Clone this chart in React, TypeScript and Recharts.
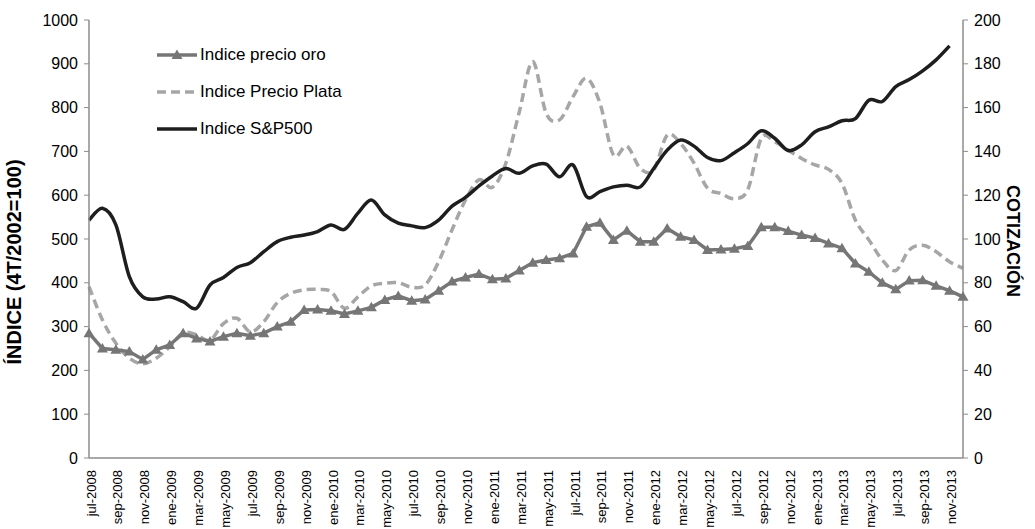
import { LineChart, Line, XAxis, YAxis } from 'recharts';

const MESES = ['ene', 'feb', 'mar', 'abr', 'may', 'jun', 'jul', 'ago', 'sep', 'oct', 'nov', 'dic'];

// jul-2008 .. dic-2013, mensual
const categorias: string[] = [];
for (let k = 0; k < 66; k++) {
  const m = (6 + k) % 12;
  const anio = 2008 + Math.floor((6 + k) / 12);
  categorias.push(`${MESES[m]}-${anio}`);
}

const oro = [
  285, 250, 247, 243, 225, 247, 258, 285, 273, 266, 277, 285,
  279, 285, 300, 311, 338, 339, 336, 329, 336, 344, 361, 370,
  359, 362, 382, 403, 412, 420, 408, 410, 428, 446, 452, 456,
  467, 528, 537, 498, 519, 494, 494, 524, 505, 498, 475, 476,
  478, 484, 527, 527, 518, 509, 502, 490, 479, 444, 425, 400,
  385, 405, 406, 393, 382, 368,
];

const plata = [
  391, 315, 262, 228, 215, 228, 254, 286, 281, 269, 307, 319,
  288, 311, 355, 376, 384, 385, 380, 342, 368, 393, 399, 400,
  390, 395, 448, 521, 589, 635, 618, 673, 790, 905, 787, 772,
  825, 867, 810, 692, 712, 661, 658, 737, 718, 673, 616, 604,
  592, 613, 730, 722, 703, 684, 669, 659, 627, 543, 498, 452,
  428, 475, 486, 471, 448, 433,
];

const sp500 = [
  543, 570, 532, 414, 368, 363, 368, 357, 342, 395, 412, 435,
  446, 471, 494, 504, 509, 517, 532, 522, 559, 589, 555, 536,
  530, 526, 543, 575, 595, 621, 644, 661, 650, 667, 671, 642,
  669, 597, 608, 619, 623, 619, 661, 703, 726, 712, 686, 679,
  697, 718, 747, 730, 702, 715, 745, 756, 770, 775, 817, 814,
  848, 864, 884, 909, 941, null,
];

const ticksIzq = [0, 100, 200, 300, 400, 500, 600, 700, 800, 900, 1000];
const ticksDer = [0, 20, 40, 60, 80, 100, 120, 140, 160, 180, 200];

const data = categorias.map((mes, i) => ({ mes, oro: oro[i], plata: plata[i], sp500: sp500[i] }));

const FONT = '"Liberation Sans", Arial, sans-serif';
const AXIS = '#8c8c8c';
const C_ORO = '#767676';
const C_PLATA = '#a6a6a6';
const C_SP = '#1e1e1e';

// suavizado tipo Excel (Catmull-Rom)
function curvaSuave(context: any) {
  let pts: number[][] = [];
  return {
    areaStart() {},
    areaEnd() {},
    lineStart() {
      pts = [];
    },
    point(x: number, y: number) {
      pts.push([+x, +y]);
    },
    lineEnd() {
      const n = pts.length;
      if (!n) return;
      context.moveTo(pts[0][0], pts[0][1]);
      for (let i = 0; i < n - 1; i++) {
        const p0 = pts[Math.max(i - 1, 0)];
        const p1 = pts[i];
        const p2 = pts[i + 1];
        const p3 = pts[Math.min(i + 2, n - 1)];
        context.bezierCurveTo(
          p1[0] + (p2[0] - p0[0]) / 6,
          p1[1] + (p2[1] - p0[1]) / 6,
          p2[0] - (p3[0] - p1[0]) / 6,
          p2[1] - (p3[1] - p1[1]) / 6,
          p2[0],
          p2[1],
        );
      }
    },
  };
}

function Triangulo(props: any) {
  const { cx, cy } = props;
  if (cx == null || cy == null) return null;
  return <polygon points={`${cx - 5.5},${cy + 4} ${cx + 5.5},${cy + 4} ${cx},${cy - 5.5}`} fill={C_ORO} />;
}

function TickMes({ x, y, payload }: any) {
  return (
    <g transform={`translate(${x},${y})`}>
      <text x={-4} y={6.5} textAnchor="end" transform="rotate(-90)" fontSize={13} fill="#000" fontFamily={FONT}>
        {payload.value}
      </text>
    </g>
  );
}

const leyenda = [
  { label: 'Indice precio oro', color: C_ORO, dash: undefined, tri: true },
  { label: 'Indice Precio Plata', color: C_PLATA, dash: '9 5', tri: false },
  { label: 'Indice S&P500', color: C_SP, dash: undefined, tri: false },
];

export default function App() {
  return (
    <div style={{ position: 'absolute', left: 0, top: 0, width: 1035, height: 529, background: '#fff', fontFamily: FONT }}>
      <LineChart width={1035} height={529} data={data} margin={{ top: 20, right: 0, left: 0, bottom: 0 }}>
        <XAxis
          dataKey="mes"
          interval={1}
          height={71}
          tickLine={false}
          axisLine={{ stroke: AXIS, strokeWidth: 1.5 }}
          tick={<TickMes />}
        />
        <YAxis
          yAxisId="izq"
          domain={[0, 1000]}
          ticks={ticksIzq}
          width={89}
          tickSize={5}
          tickMargin={6}
          axisLine={{ stroke: AXIS, strokeWidth: 1.5 }}
          tickLine={{ stroke: AXIS }}
          tick={{ fontSize: 16, fill: '#000', fontFamily: FONT }}
        />
        <YAxis
          yAxisId="der"
          orientation="right"
          domain={[0, 200]}
          ticks={ticksDer}
          allowDataOverflow
          width={72}
          tickSize={5}
          tickMargin={6}
          axisLine={{ stroke: AXIS, strokeWidth: 1.5 }}
          tickLine={{ stroke: AXIS }}
          tick={{ fontSize: 16, fill: '#000', fontFamily: FONT }}
        />
        <Line
          yAxisId="izq"
          dataKey="plata"
          type={curvaSuave as any}
          stroke={C_PLATA}
          strokeWidth={3.5}
          strokeDasharray="9 5"
          dot={false}
          isAnimationActive={false}
        />
        <Line
          yAxisId="izq"
          dataKey="sp500"
          type={curvaSuave as any}
          stroke={C_SP}
          strokeWidth={3.5}
          dot={false}
          isAnimationActive={false}
        />
        <Line
          yAxisId="izq"
          dataKey="oro"
          type="linear"
          stroke={C_ORO}
          strokeWidth={3.5}
          dot={<Triangulo />}
          isAnimationActive={false}
        />
      </LineChart>

      <div
        style={{
          position: 'absolute',
          left: 14,
          top: 262,
          transform: 'translate(-50%, -50%) rotate(-90deg)',
          whiteSpace: 'nowrap',
          fontWeight: 'bold',
          fontSize: 20,
        }}
      >
        ÍNDICE (4T/2002=100)
      </div>
      <div
        style={{
          position: 'absolute',
          left: 1012,
          top: 241,
          transform: 'translate(-50%, -50%) rotate(90deg)',
          whiteSpace: 'nowrap',
          fontWeight: 'bold',
          fontSize: 18,
        }}
      >
        COTIZACIÓN
      </div>

      <div style={{ position: 'absolute', left: 155, top: 36 }}>
        {leyenda.map((l) => (
          <div key={l.label} style={{ display: 'flex', alignItems: 'center', height: 37 }}>
            <svg width={44} height={14}>
              <line x1={2} y1={7} x2={42} y2={7} stroke={l.color} strokeWidth={3.5} strokeDasharray={l.dash} />
              {l.tri && <polygon points="16.5,11 27.5,11 22,1.5" fill={l.color} />}
            </svg>
            <span style={{ fontSize: 17, marginLeft: 1 }}>{l.label}</span>
          </div>
        ))}
      </div>
    </div>
  );
}
